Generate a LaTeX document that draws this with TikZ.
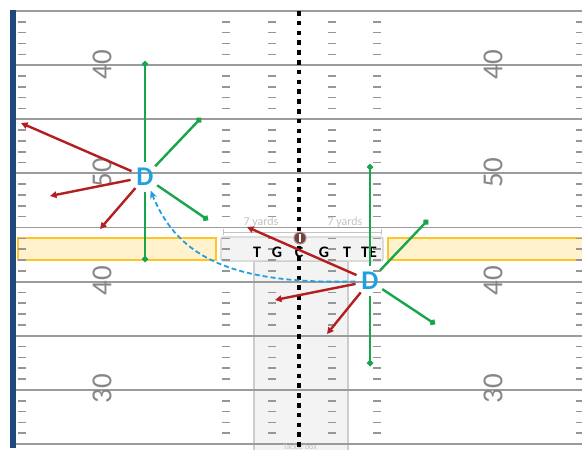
\documentclass[tikz,border=0pt]{standalone}
\usepackage{fontspec}
\setmainfont{Carlito}
\usetikzlibrary{arrows.meta}
\definecolor{fieldline}{RGB}{155,155,155}
\definecolor{hashgray}{RGB}{150,150,150}
\definecolor{numgray}{RGB}{135,135,135}
\definecolor{sideblue}{RGB}{31,73,125}
\definecolor{boxyellow}{RGB}{255,242,204}
\definecolor{boxgold}{RGB}{255,196,40}
\definecolor{midfill}{RGB}{243,243,243}
\definecolor{midline}{RGB}{205,205,205}
\definecolor{faint}{RGB}{195,195,195}
\definecolor{dblue}{RGB}{30,160,225}
\definecolor{routegreen}{RGB}{25,165,75}
\definecolor{routered}{RGB}{180,30,30}
\definecolor{ballbrown}{RGB}{115,65,62}
\begin{document}
\begin{tikzpicture}[x=1pt,y=-1pt,
  yardline/.style={draw=fieldline,line width=1.8pt},
  hash/.style={draw=hashgray,line width=1.6pt},
  num/.style={text=numgray,font=\fontsize{29}{29}\selectfont,rotate=90,inner sep=0pt},
  poslabel/.style={text=black,font=\bfseries\fontsize{16}{16}\selectfont,inner sep=0pt},
  ydlabel/.style={text=faint,font=\fontsize{12}{12}\selectfont,inner sep=0pt},
  dimline/.style={draw=faint,line width=0.8pt},
  dnode/.style={circle,minimum size=29pt,inner sep=0pt,text=dblue,font=\bfseries\fontsize{27}{27}\selectfont},
  greenroute/.style={draw=routegreen,line width=2.4pt,-{Circle[length=6pt]}},
  redroute/.style={draw=routered,line width=2.4pt,-{Triangle[length=6.5pt,width=6.5pt]}},
  bluedash/.style={draw=dblue,line width=1.8pt,dash pattern=on 5pt off 3pt,-{Stealth[length=8pt,width=7pt]}},
  ballstyle/.style={circle,minimum size=12pt,inner sep=0pt,fill=ballbrown,draw=ballbrown!60!white,line width=1pt}
]
\useasboundingbox (0,0) rectangle (582,450);
\clip (0,0) rectangle (582,450);
\fill[white] (0,0) rectangle (582,450);

% tackle box and line boxes
\draw[fill=midfill,draw=midline,line width=1.5pt] (254,261) rectangle (348,470);
\draw[fill=midfill,draw=midline,line width=1.2pt,rounded corners=2pt] (221,237) rectangle (383,261);
\draw[fill=boxyellow,draw=boxgold,line width=1.5pt] (18,238) rectangle (216,260);
\draw[fill=boxyellow,draw=boxgold,line width=1.5pt] (388,238) rectangle (600,260);

% yard lines
\foreach \i in {0,...,8}{
  \draw[yardline] (16,{11+54.125*\i}) -- (582,{11+54.125*\i});
}
% hash marks
\foreach \i in {0,...,7}{
  \foreach \k in {1,...,4}{
    \foreach \xa in {18,222,268,328,373,576}{
      \draw[hash] (\xa,{11+54.125*\i+10.825*\k}) -- ++(8,0);
    }
  }
}
% sideline
\fill[sideblue] (10,10) rectangle (16,448);

% numbers
\node[num] (n1) at (102,65) {40};
\node[num] (n2) at (102,173) {50};
\node[num] (n3) at (102,281) {40};
\node[num] (n4) at (102,389) {30};
\node[num] (n5) at (493,65) {40};
\node[num] (n6) at (493,173) {50};
\node[num] (n7) at (493,281) {40};
\node[num] (n8) at (493,389) {30};

% tackle box label
\node[text=faint,font=\fontsize{8}{8}\selectfont,inner sep=0pt] (tackle) at (300,446.5) {Tackle box};

% 7 yards markers
\node[ydlabel] (ya) at (261,222) {7 yards};
\node[ydlabel] (yb) at (345,222) {7 yards};
\draw[dimline] (223,229) -- (223,235) (223,232) -- (297,232);
\draw[dimline] (381,229) -- (381,235) (302,232) -- (381,232);

% line of scrimmage positions
\node[poslabel] (p1) at (257,252) {T};
\node[poslabel] (p2) at (277,252) {G};
\node[poslabel] (p3) at (299,252) {C};
\node[poslabel] (p4) at (324,252) {G};
\node[poslabel] (p5) at (347,252) {T};
\node[poslabel] (p6) at (369,252) {TE};

% center dotted line
\draw[line width=4.5pt,dash pattern=on 4.5pt off 5.3pt] (299,11) -- (299,452);

% ball
\node[ballstyle] (ball) at (300,238) {};
\draw[white,line width=1.2pt] (300,234) -- (300,242);

% defenders
\node[dnode] (dL) at (145,177) {D};
\node[dnode] (dR) at (370,281) {D};

% left defender routes
\coordinate (lg1) at (145,61);
\coordinate (lg2) at (201,118);
\coordinate (lg3) at (208,220);
\coordinate (lg4) at (145,262);
\coordinate (lr1) at (21,123);
\coordinate (lr2) at (50,196);
\coordinate (lr3) at (100,229);
\draw[greenroute] (dL) -- (lg1);
\draw[greenroute] (dL) -- (lg2);
\draw[greenroute] (dL) -- (lg3);
\draw[greenroute] (dL) -- (lg4);
\draw[redroute] (dL) -- (lr1);
\draw[redroute] (dL) -- (lr2);
\draw[redroute] (dL) -- (lr3);

% right defender routes
\coordinate (rg1) at (370,164);
\coordinate (rg2) at (428,220);
\coordinate (rg3) at (435,324);
\coordinate (rg4) at (370,366);
\coordinate (rr1) at (247,227);
\coordinate (rr2) at (275,300);
\coordinate (rr3) at (327,334);
\draw[greenroute] (dR) -- (rg1);
\draw[greenroute] (dR) -- (rg2);
\draw[greenroute] (dR) -- (rg3);
\draw[greenroute] (dR) -- (rg4);
\draw[redroute] (dR) -- (rr1);
\draw[redroute] (dR) -- (rr2);
\draw[redroute] (dR) -- (rr3);

% movement
\draw[bluedash] (dR) .. controls (220,285) and (175,250) .. (dL);
\end{tikzpicture}
\end{document}
